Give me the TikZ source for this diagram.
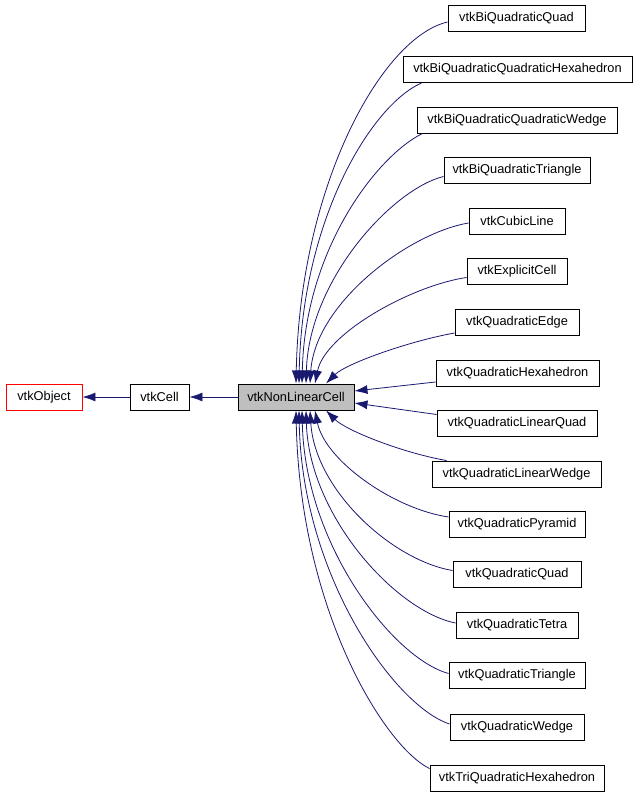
\documentclass[tikz,border=0pt]{standalone}
\usepackage{fontspec}
\setmainfont{Liberation Sans}
\usetikzlibrary{arrows.meta,calc}
\definecolor{edgeblue}{HTML}{191970}
\definecolor{nodegray}{HTML}{BFBFBF}
\tikzset{
  cls/.style={draw=black, line width=0.9pt, rectangle, minimum height=26pt, inner sep=0pt, font=\fontsize{12.8}{14}\selectfont, text=black},
  edge/.style={draw=edgeblue, line width=0.8pt, -{Latex[length=13pt,width=9pt]}},
}
\begin{document}
\begin{tikzpicture}[x=1pt,y=-1pt]
\useasboundingbox (0,0) rectangle (637,797);
% left chain
\node[cls, draw=red, minimum width=76pt] (obj) at (44,397) {vtkObject};
\node[cls, minimum width=59pt] (cell) at (159.5,397) {vtkCell};
\node[cls, fill=nodegray, minimum width=116pt] (nlc) at (296,397) {vtkNonLinearCell};
% children
\node[cls, minimum width=137pt] (bqq) at (516.5,18.5) {vtkBiQuadraticQuad};
\node[cls, minimum width=229pt] (bqqh) at (517.5,69.5) {vtkBiQuadraticQuadraticHexahedron};
\node[cls, minimum width=200pt] (bqqw) at (517,120) {vtkBiQuadraticQuadraticWedge};
\node[cls, minimum width=146pt] (bqt) at (517,170.5) {vtkBiQuadraticTriangle};
\node[cls, minimum width=96pt] (cl) at (517,221) {vtkCubicLine};
\node[cls, minimum width=100pt] (ec) at (517,271.5) {vtkExplicitCell};
\node[cls, minimum width=124pt] (qe) at (517,322) {vtkQuadraticEdge};
\node[cls, minimum width=163pt] (qh) at (517.5,373) {vtkQuadraticHexahedron};
\node[cls, minimum width=160pt] (qlq) at (517,423.5) {vtkQuadraticLinearQuad};
\node[cls, minimum width=169pt] (qlw) at (516.5,474) {vtkQuadraticLinearWedge};
\node[cls, minimum width=136pt] (qpy) at (517,524) {vtkQuadraticPyramid};
\node[cls, minimum width=128pt] (qq) at (517,574.5) {vtkQuadraticQuad};
\node[cls, minimum width=122pt] (qt) at (517,625) {vtkQuadraticTetra};
\node[cls, minimum width=136pt] (qtr) at (517,675.5) {vtkQuadraticTriangle};
\node[cls, minimum width=134pt] (qw) at (517,727) {vtkQuadraticWedge};
\node[cls, minimum width=174pt] (tqh) at (517,778) {vtkTriQuadraticHexahedron};
% chain edges
\draw[edge] (cell.west) -- (obj.east);
\draw[edge] (nlc.west) -- (cell.east);
% top edges
\draw[edge] ($(bqq.west)+(0,3.5)$) .. controls +(-65,15) and +(4,-200) .. ($(nlc.north)+(0,0)$);
\draw[edge] ($(bqqh.south west)+(19,0)$) .. controls +(-50,22) and +(3,-165) .. ($(nlc.north)+(3,0)$);
\draw[edge] ($(bqqw.south west)+(6,0)$) .. controls +(-45,22) and +(3,-135) .. ($(nlc.north)+(6,0)$);
\draw[edge] ($(bqt.west)+(0,6)$) .. controls +(-50,12) and +(3,-105) .. ($(nlc.north)+(10,0)$);
\draw[edge] ($(cl.west)+(0,2)$) .. controls +(-60,10) and +(5,-80) .. ($(nlc.north)+(14,0)$);
\draw[edge] ($(ec.west)+(0,6)$) .. controls +(-55,8) and +(10,-50) .. ($(nlc.north)+(19,0)$);
\draw[edge] ($(qe.west)+(0,11)$) .. controls +(-45,8) and +(20,-20) .. ($(nlc.north)+(30,0)$);
\draw[edge] ($(qh.west)+(0,9)$) -- ($(nlc.east)+(0,-6)$);
\draw[edge] ($(qlq.west)+(0,-9)$) -- ($(nlc.east)+(0,6)$);
% bottom edges
\draw[edge] ($(qlw.north west)+(15,0)$) .. controls +(-45,-8) and +(20,20) .. ($(nlc.south)+(30,0)$);
\draw[edge] ($(qpy.west)+(0,-7)$) .. controls +(-55,-8) and +(10,50) .. ($(nlc.south)+(19,0)$);
\draw[edge] ($(qq.west)+(0,-4)$) .. controls +(-60,-10) and +(5,80) .. ($(nlc.south)+(14,0)$);
\draw[edge] ($(qt.west)+(0,-2)$) .. controls +(-60,-12) and +(3,105) .. ($(nlc.south)+(10,0)$);
\draw[edge] ($(qtr.west)+(0,-2)$) .. controls +(-55,-15) and +(3,135) .. ($(nlc.south)+(6,0)$);
\draw[edge] ($(qw.west)+(0,-3)$) .. controls +(-55,-18) and +(3,165) .. ($(nlc.south)+(3,0)$);
\draw[edge] ($(tqh.north west)+(0,4)$) .. controls +(-45,-22) and +(4,200) .. ($(nlc.south)+(0,0)$);
\end{tikzpicture}
\end{document}
